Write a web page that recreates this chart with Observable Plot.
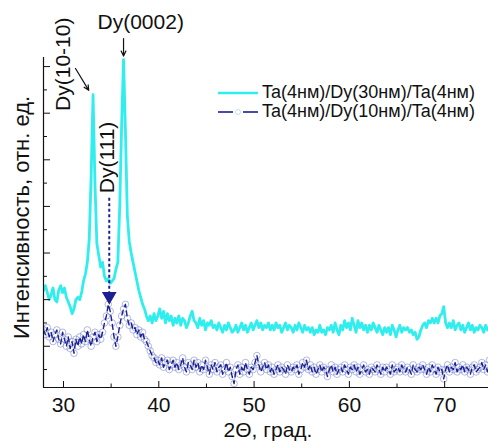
<!DOCTYPE html>
<html>
<head>
<meta charset="utf-8">
<script src="https://cdn.jsdelivr.net/npm/d3@7"></script>
<script src="https://cdn.jsdelivr.net/npm/@observablehq/plot@0.6"></script>
<style>
  body { margin: 0; background: #fff; }
  #wrap { position: relative; width: 488px; height: 443px; font-family: "Liberation Sans", Arial, sans-serif; }
  .legend { position: absolute; left: 217px; top: 83px; font-size: 18px; color: #111; }
  .legend .row { display: flex; align-items: center; height: 19px; white-space: nowrap; }
  .legend svg { margin-right: 3px; }
</style>
</head>
<body>
<div id="wrap"></div>
<script>
// 2θ sampling grid of both scans (degrees)
const angleStart = 27.9;
const angleStep = 0.2;

// Ta(4нм)/Dy(30нм)/Ta(4нм), relative intensity, ten points per row (2° per row)
const dy30 = [
  4.4, 4.6, 4.3, 4.0, 4.2, 4.5, 4.0, 3.9, 4.4, 4.6,
  4.3, 4.5, 4.1, 3.9, 3.7, 3.4, 3.6, 4.0, 4.1, 4.0,
  4.3, 4.8, 5.1, 5.6, 6.6, 9.3, 12.8, 9.0, 6.4, 5.9,
  5.4, 5.6, 5.0, 4.8, 4.9, 4.7, 4.8, 4.9, 5.3, 5.6,
  8.0, 11.5, 14.3, 11.2, 7.6, 6.5, 6.0, 5.6, 5.2, 4.8,
  4.4, 4.1, 3.8, 3.6, 3.3, 3.1, 3.3, 3.0, 3.4, 3.1,
  3.3, 3.6, 3.2, 3.5, 3.0, 3.4, 3.1, 3.3, 2.9, 3.2,
  3.0, 3.3, 2.9, 3.2, 3.1, 2.8, 3.0, 3.3, 3.5, 3.1,
  3.0, 2.8, 3.2, 2.9, 3.1, 2.7, 3.0, 2.9, 3.1, 2.8,
  2.9, 2.7, 3.0, 2.8, 2.6, 2.9, 2.7, 3.0, 2.8, 2.6,
  2.7, 2.9, 2.6, 2.8, 3.0, 2.7, 2.9, 2.6, 2.8, 3.0,
  2.7, 2.9, 3.1, 2.8, 3.0, 2.7, 2.9, 2.8, 3.0, 2.7,
  2.9, 2.7, 3.0, 2.8, 2.9, 2.6, 2.8, 3.0, 2.7, 2.9,
  2.8, 2.6, 2.9, 2.7, 3.0, 2.8, 2.6, 2.9, 2.7, 2.8,
  2.6, 2.8, 2.5, 2.7, 2.6, 2.9, 2.6, 2.7, 2.5, 2.8,
  2.7, 2.9, 2.6, 3.0, 2.7, 2.5, 2.9, 2.7, 3.1, 2.8,
  3.0, 2.7, 3.2, 2.9, 2.6, 3.1, 2.8, 3.0, 2.7, 2.9,
  2.6, 2.9, 2.7, 3.0, 2.8, 2.6, 2.9, 2.7, 2.5, 2.8,
  2.6, 2.8, 2.5, 2.9, 2.7, 2.4, 2.7, 2.9, 2.6, 2.8,
  2.7, 2.8, 2.6, 2.7, 2.5, 2.6, 2.3, 2.4, 2.7, 2.9,
  3.0, 2.8, 3.1, 3.0, 3.2, 3.0, 3.2, 3.0, 3.3, 3.4,
  3.7, 3.0, 2.8, 3.0, 2.8, 3.1, 2.7, 2.9, 3.0, 2.7,
  2.9, 2.6, 2.8, 3.0, 2.7, 2.9, 2.6, 2.8, 2.7, 2.9,
  2.8, 2.6, 2.9, 2.7, 2.8
];

// Ta(4нм)/Dy(10нм)/Ta(4нм), relative intensity, same grid
const dy10 = [
  2.7, 2.5, 2.8, 2.4, 2.6, 2.2, 2.5, 2.7, 2.3, 2.1,
  2.6, 2.3, 2.0, 2.4, 1.9, 2.2, 1.7, 2.3, 2.0, 2.4,
  2.1, 2.5, 2.2, 2.7, 2.3, 2.0, 2.4, 2.6, 2.2, 2.5,
  2.3, 2.6, 3.0, 3.3, 3.8, 3.5, 3.0, 2.4, 2.0, 2.4,
  2.9, 3.3, 3.6, 3.8, 3.2, 2.9, 3.0, 2.7, 2.8, 2.5,
  2.7, 2.4, 2.6, 2.3, 2.2, 2.0, 1.8, 1.6, 1.5, 1.3,
  1.4, 1.2, 1.5, 1.1, 1.3, 1.4, 1.0, 1.2, 1.4, 1.1,
  1.3, 1.0, 1.2, 1.5, 1.1, 0.9, 1.3, 1.2, 1.0, 1.4,
  1.1, 1.3, 0.9, 1.2, 1.0, 1.4, 1.1, 0.8, 1.2, 1.0,
  1.3, 0.9, 1.1, 1.2, 0.8, 1.0, 1.3, 0.9, 1.1, 0.7,
  0.4, 1.0, 1.2, 0.8, 1.1, 0.9, 1.3, 1.0, 0.8, 1.1,
  1.0, 1.3, 1.6, 1.2, 0.9, 1.1, 1.3, 1.0, 1.2, 0.9,
  1.1, 0.8, 1.0, 1.2, 0.9, 1.1, 1.0, 0.8, 1.2, 1.0,
  0.9, 1.1, 1.0, 1.2, 0.8, 1.0, 1.3, 1.1, 1.4, 1.0,
  1.2, 0.9, 1.1, 0.8, 1.0, 1.2, 0.9, 1.1, 1.0, 0.7,
  1.0, 1.2, 0.9, 1.1, 0.8, 1.0, 1.1, 0.9, 1.2, 1.0,
  0.8, 1.1, 1.0, 1.2, 0.9, 1.1, 0.8, 1.0, 1.2, 0.9,
  1.0, 0.8, 1.1, 1.0, 0.9, 1.2, 1.0, 0.8, 1.1, 0.9,
  1.1, 1.0, 0.8, 1.2, 0.9, 1.0, 1.1, 0.9, 1.2, 1.0,
  0.9, 1.1, 1.0, 0.8, 1.2, 1.0, 0.9, 1.1, 1.0, 1.2,
  1.0, 0.8, 1.1, 0.9, 1.2, 1.0, 0.8, 1.1, 0.9, 1.0,
  0.6, 1.0, 1.2, 0.9, 1.1, 1.0, 1.3, 0.9, 1.1, 1.0,
  1.2, 0.9, 1.1, 1.0, 0.8, 1.1, 1.2, 0.9, 1.0, 1.1,
  1.3, 1.0, 1.2, 0.9, 1.4
];

// axis ticks
const xMajor = [30, 40, 50, 60, 70];
const xMinor = [35, 45, 55, 65, 75];
const yMajor = [2, 4, 6, 8, 10, 12, 14];
const yMinor = [1, 3, 5, 7, 9, 11, 13];

// reflection labels: text, position of label (2θ, intensity)
const peakLabels = [
  {text: "Dy(0002)",  angle: 38.1, level: 15.9, rotate: 0},
  {text: "Dy(10-10)", angle: 29.95, level: 14.1, rotate: -90},
  {text: "Dy(111)",   angle: 34.6, level: 10.1, rotate: -90}
];
// pointer arrows from label to peak
const pointers = [
  {a1: 36.3, v1: 15.2, a2: 36.3, v2: 14.45},
  {a1: 31.26, v1: 13.92, a2: 32.65, v2: 12.98}
];
const dy111Pointer = {angle: 34.8, from: 8.35, to: 4.15};

const legendNames = ["Ta(4нм)/Dy(30нм)/Ta(4нм)", "Ta(4нм)/Dy(10нм)/Ta(4нм)"];
const xLabel = "2Θ, град.";
const yLabel = "Интенсивность, отн. ед.";

const cyan = "#30eeee";
const navy = "#1c2090";

const scanThick = dy30.map((v, i) => ({angle: angleStart + i * angleStep, value: v}));
const scanThin = dy10.map((v, i) => ({angle: angleStart + i * angleStep, value: v}));

const font = "'Liberation Sans', Arial, sans-serif";

const chart = Plot.plot({
  width: 488,
  height: 443,
  marginLeft: 43,
  marginRight: 0,
  marginTop: 57,
  marginBottom: 56,
  style: {fontFamily: font, fontSize: "21px", color: "#111", background: "#fff", overflow: "visible"},
  x: {domain: [27.9, 74.6]},
  y: {domain: [0.23, 14.39]},
  marks: [
    // scans
    Plot.line(scanThick, {x: "angle", y: "value", stroke: cyan, strokeWidth: 2.8, clip: true}),
    Plot.dot(scanThin, {x: "angle", y: "value", r: 3.3, stroke: "#6373c4", strokeWidth: 0.7, strokeOpacity: 0.7, fill: "none", clip: true}),
    Plot.line(scanThin, {x: "angle", y: "value", stroke: navy, strokeWidth: 1.4, strokeDasharray: "5,4", clip: true}),

    // axes
    Plot.ruleX([27.9], {stroke: "#111", strokeWidth: 1.2}),
    Plot.ruleY([0.23], {stroke: "#111", strokeWidth: 1.2}),
    Plot.axisX({ticks: xMajor, tickSize: -6, tickPadding: 16, label: null, fontSize: 21}),
    Plot.axisX({ticks: xMinor, tickSize: -3.5, tickFormat: () => "", label: null}),
    Plot.axisY({ticks: yMajor, tickSize: -7, tickFormat: () => "", label: null}),
    Plot.axisY({ticks: yMinor, tickSize: -4, tickFormat: () => "", label: null}),

    // axis titles
    Plot.text([xLabel], {frameAnchor: "bottom", dy: 43, dx: 2, lineAnchor: "middle", fontSize: 21}),
    Plot.text([yLabel], {frameAnchor: "left", dx: -22, dy: -5, rotate: -90, textAnchor: "middle", lineAnchor: "middle", fontSize: 22}),

    // reflection labels and pointers
    Plot.text(peakLabels, {x: "angle", y: "level", text: "text", rotate: "rotate", lineAnchor: "middle", textAnchor: "middle", fontSize: 21, fill: "#111"}),
    Plot.arrow(pointers, {x1: "a1", y1: "v1", x2: "a2", y2: "v2", stroke: "#111", strokeWidth: 1.2, headLength: 7, headAngle: 50}),
    Plot.ruleX([dy111Pointer], {x: "angle", y1: "from", y2: "to", stroke: navy, strokeWidth: 2, strokeDasharray: "3,2.5"}),
    Plot.dot([dy111Pointer], {x: "angle", y: "to", symbol: "triangle", rotate: 180, r: 4.5, fill: navy, stroke: navy})
  ]
});

const wrap = document.getElementById("wrap");
wrap.appendChild(chart);

// legend
const legend = document.createElement("div");
legend.className = "legend";
legend.innerHTML = `
  <div class="row"><svg width="42" height="19"><line x1="1" x2="41" y1="10" y2="10" stroke="${cyan}" stroke-width="2.4"/></svg><span>${legendNames[0]}</span></div>
  <div class="row"><svg width="42" height="19"><line x1="1" x2="16" y1="10" y2="10" stroke="${navy}" stroke-width="1.6"/><line x1="26" x2="41" y1="10" y2="10" stroke="${navy}" stroke-width="1.6"/><circle cx="21" cy="10" r="2.5" fill="none" stroke="#c8d0ee" stroke-width="0.8"/></svg><span>${legendNames[1]}</span></div>`;
wrap.appendChild(legend);
</script>
</body>
</html>
